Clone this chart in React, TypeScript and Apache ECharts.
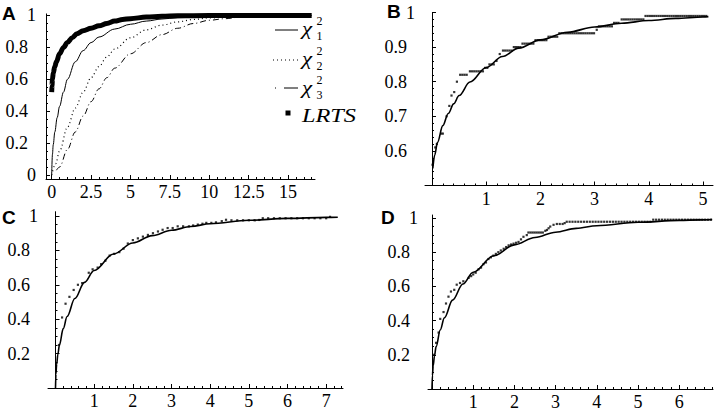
import React, { useEffect, useRef } from "react";
import * as echarts from "echarts";

const SERIF = "Liberation Serif, Times New Roman, DejaVu Serif, serif";
const SANS = "Liberation Sans, Arial, DejaVu Sans, sans-serif";

// ---------- Panel A ----------
const aXLabels = [0, 2.5, 5, 7.5, 10, 12.5, 15];
const aYLabels = [0, 0.2, 0.4, 0.6, 0.8, 1];
const chi1A: [number, number][] = [
  [0, 0], [0.05, 0.13], [0.1, 0.19], [0.2, 0.27], [0.35, 0.36], [0.5, 0.43], [0.75, 0.52],
  [1, 0.6], [1.5, 0.71], [2, 0.78], [2.5, 0.83], [3, 0.865], [4, 0.915], [5, 0.945],
  [6, 0.965], [7, 0.978], [8, 0.986], [10, 0.995], [12, 0.999], [16.5, 1],
];
const chi2A: [number, number][] = [
  [0, 0], [0.25, 0.07], [0.5, 0.15], [1, 0.3], [1.5, 0.42], [2, 0.52], [2.5, 0.61], [3, 0.68],
  [3.5, 0.74], [4, 0.79], [5, 0.86], [6, 0.91], [7, 0.94], [8, 0.96], [9, 0.975], [10, 0.985],
  [12, 0.996], [16.5, 1],
];
const chi3A: [number, number][] = [
  [0.3, 0.03], [0.5, 0.05], [1, 0.16], [1.5, 0.27], [2, 0.37], [2.5, 0.46], [3, 0.54], [3.5, 0.61],
  [4, 0.67], [5, 0.76], [6, 0.83], [7, 0.88], [8, 0.92], [9, 0.95], [10, 0.97], [11, 0.98],
  [12, 0.99], [14, 0.997], [16.5, 1],
];
const lrtsA: [number, number][] = [
  [0, 0.52], [0.02, 0.56], [0.05, 0.6], [0.1, 0.64], [0.2, 0.68], [0.3, 0.71], [0.5, 0.76],
  [0.75, 0.8], [1, 0.83], [1.3, 0.86], [1.6, 0.885], [2, 0.905], [2.5, 0.92], [3, 0.935],
  [3.5, 0.95], [4, 0.965], [4.5, 0.975], [5, 0.98], [6, 0.99], [7, 0.995], [8, 0.998],
  [10, 1], [16.5, 1],
];

// ---------- Panel B ----------
const bXLabels = [1, 2, 3, 4, 5];
const bYLabels = [0.6, 0.7, 0.8, 0.9, 1];
const curveB: [number, number][] = [
  [0.015, 0.549], [0.05, 0.588], [0.1, 0.624], [0.2, 0.673], [0.3, 0.708], [0.4, 0.736],
  [0.5, 0.76], [0.7, 0.799], [1, 0.841], [1.3, 0.873], [1.6, 0.897], [2, 0.921], [2.5, 0.943],
  [3, 0.958], [3.5, 0.969], [4, 0.977], [4.5, 0.983], [5, 0.987], [5.1, 0.988],
];
const dotsB: [number, number][] = [
  [0.01, 0.56], [0.06, 0.61], [0.09, 0.62], [0.17, 0.65], [0.2, 0.65], [0.27, 0.7], [0.32, 0.73],
  [0.36, 0.76], [0.41, 0.77], [0.46, 0.8],
  [0.52, 0.82], [0.56, 0.82], [0.6, 0.82], [0.64, 0.82],
  [0.7, 0.83], [0.74, 0.83], [0.78, 0.83], [0.82, 0.83], [0.86, 0.83], [0.9, 0.83], [0.94, 0.83],
  [0.98, 0.84], [1.02, 0.84],
  [1.06, 0.85], [1.1, 0.85], [1.14, 0.85], [1.19, 0.86], [1.25, 0.88],
  [1.31, 0.89], [1.35, 0.89], [1.39, 0.89], [1.43, 0.89], [1.47, 0.89],
  [1.51, 0.9], [1.55, 0.9], [1.59, 0.9], [1.63, 0.9],
  [1.67, 0.91], [1.71, 0.91], [1.75, 0.91], [1.79, 0.91], [1.83, 0.91], [1.87, 0.91],
  [1.91, 0.92], [1.95, 0.92], [1.99, 0.92], [2.03, 0.92], [2.07, 0.92], [2.11, 0.92],
  [2.15, 0.93], [2.19, 0.93], [2.23, 0.93], [2.27, 0.93], [2.31, 0.93],
  [2.35, 0.94], [2.39, 0.94], [2.43, 0.94], [2.47, 0.94], [2.51, 0.94], [2.55, 0.94], [2.59, 0.94],
  [2.63, 0.94], [2.67, 0.94], [2.71, 0.94], [2.75, 0.94], [2.79, 0.94], [2.83, 0.94], [2.87, 0.94],
  [2.91, 0.94], [2.95, 0.94], [2.99, 0.94],
  [3.04, 0.95],
  [3.08, 0.96], [3.12, 0.96], [3.16, 0.96], [3.2, 0.96], [3.24, 0.96], [3.28, 0.96], [3.32, 0.96],
  [3.36, 0.97], [3.4, 0.97], [3.44, 0.97],
  [3.5, 0.98], [3.54, 0.98], [3.58, 0.98], [3.62, 0.98], [3.66, 0.98], [3.7, 0.98], [3.74, 0.98],
  [3.78, 0.98], [3.82, 0.98], [3.86, 0.98], [3.9, 0.98],
  [3.94, 0.99], [3.98, 0.99], [4.02, 0.99], [4.06, 0.99], [4.1, 0.99], [4.14, 0.99], [4.18, 0.99],
  [4.22, 0.99], [4.26, 0.99], [4.3, 0.99], [4.34, 0.99], [4.38, 0.99], [4.42, 0.99], [4.46, 0.99],
  [4.5, 0.99], [4.54, 0.99], [4.58, 0.99], [4.62, 0.99], [4.66, 0.99], [4.7, 0.99], [4.74, 0.99],
  [4.78, 0.99], [4.82, 0.99], [4.86, 0.99], [4.9, 0.99], [4.94, 0.99], [4.98, 0.99], [5.02, 0.99],
  [5.06, 0.99],
];

// ---------- Panel C ----------
const cXLabels = [1, 2, 3, 4, 5, 6, 7];
const cYLabels = [0.2, 0.4, 0.6, 0.8, 1];
const curveC: [number, number][] = [
  [0, 0], [0.01, 0.08], [0.03, 0.138], [0.06, 0.194], [0.1, 0.248], [0.2, 0.345], [0.3, 0.416],
  [0.5, 0.52], [0.75, 0.614], [1, 0.683], [1.5, 0.779], [2, 0.843], [2.5, 0.886], [3, 0.917],
  [3.5, 0.939], [4, 0.955], [5, 0.975], [6, 0.986], [7, 0.992], [7.3, 0.993],
];
const dotsC: [number, number][] = [
  [0.09, 0.25], [0.17, 0.41], [0.26, 0.49], [0.36, 0.53], [0.47, 0.57], [0.58, 0.6], [0.69, 0.61],
  [0.86, 0.67], [0.96, 0.69], [1.09, 0.7], [1.18, 0.72], [1.29, 0.74], [1.4, 0.77], [1.52, 0.78],
  [1.65, 0.79], [1.76, 0.81], [1.87, 0.84], [2.0, 0.86], [2.13, 0.87], [2.26, 0.88], [2.39, 0.89],
  [2.52, 0.9], [2.65, 0.91], [2.77, 0.92], [2.9, 0.93], [3.03, 0.93], [3.16, 0.94], [3.3, 0.94],
  [3.45, 0.94], [3.56, 0.945], [3.68, 0.95], [3.8, 0.955], [3.9, 0.96], [4.03, 0.96], [4.15, 0.963],
  [4.3, 0.97], [4.41, 0.978], [4.55, 0.975], [4.7, 0.975], [4.85, 0.975], [5.0, 0.975],
  [5.15, 0.975], [5.27, 0.977], [5.36, 0.987], [5.5, 0.987], [5.65, 0.987], [5.8, 0.987],
  [5.95, 0.987], [6.1, 0.987], [6.25, 0.987], [6.4, 0.987], [6.55, 0.987], [6.7, 0.987],
  [6.85, 0.987], [7.0, 0.987], [7.1, 0.995],
];

// ---------- Panel D ----------
const dXLabels = [1, 2, 3, 4, 5, 6];
const dYLabels = [0.2, 0.4, 0.6, 0.8, 1];
const curveD: [number, number][] = [
  [0, 0], [0.01, 0.08], [0.03, 0.138], [0.06, 0.194], [0.1, 0.248], [0.2, 0.345], [0.3, 0.416],
  [0.5, 0.52], [0.75, 0.614], [1, 0.683], [1.5, 0.779], [2, 0.843], [2.5, 0.886], [3, 0.917],
  [3.5, 0.939], [4, 0.955], [5, 0.975], [6, 0.986], [6.5, 0.989], [6.8, 0.991],
];
const dotsD: [number, number][] = [
  [0.05, 0.2], [0.1, 0.27], [0.16, 0.33], [0.2, 0.41], [0.28, 0.45], [0.34, 0.5], [0.4, 0.54],
  [0.46, 0.57], [0.54, 0.58], [0.6, 0.61], [0.68, 0.62], [0.76, 0.63], [0.89, 0.65], [0.95, 0.66],
  [1.0, 0.67], [1.06, 0.68], [1.13, 0.7], [1.19, 0.71], [1.25, 0.73], [1.31, 0.74], [1.37, 0.76],
  [1.43, 0.77], [1.49, 0.78], [1.55, 0.79], [1.61, 0.8], [1.67, 0.81], [1.74, 0.82], [1.8, 0.83],
  [1.86, 0.84], [1.92, 0.845], [1.98, 0.85], [2.04, 0.855], [2.1, 0.86], [2.16, 0.875],
  [2.22, 0.89], [2.3, 0.9],
  [2.34, 0.915], [2.39, 0.915], [2.44, 0.915], [2.49, 0.915], [2.54, 0.915], [2.59, 0.915],
  [2.64, 0.915], [2.69, 0.915],
  [2.75, 0.925], [2.79, 0.93], [2.83, 0.94], [2.87, 0.95], [2.95, 0.96], [3.03, 0.965],
  [3.1, 0.965], [3.17, 0.965], [3.22, 0.97],
  [3.27, 0.978], [3.34, 0.978], [3.41, 0.978], [3.48, 0.978], [3.55, 0.978], [3.62, 0.978],
  [3.69, 0.978], [3.76, 0.978], [3.83, 0.978], [3.9, 0.978], [3.97, 0.978], [4.04, 0.978],
  [4.11, 0.978], [4.18, 0.978], [4.25, 0.978], [4.32, 0.978], [4.39, 0.978], [4.46, 0.978],
  [4.53, 0.978], [4.6, 0.978], [4.67, 0.978], [4.74, 0.978], [4.81, 0.978], [4.88, 0.978],
  [4.95, 0.978], [5.02, 0.978], [5.09, 0.978], [5.16, 0.978], [5.23, 0.978], [5.3, 0.978],
  [5.37, 0.99], [5.44, 0.99], [5.51, 0.99], [5.58, 0.99], [5.65, 0.99], [5.72, 0.99], [5.79, 0.99],
  [5.86, 0.99], [5.93, 0.99], [6.0, 0.99], [6.07, 0.99], [6.14, 0.99], [6.21, 0.99], [6.28, 0.99],
  [6.35, 0.99], [6.42, 0.99], [6.49, 0.99], [6.56, 0.99], [6.63, 0.99], [6.7, 0.99], [6.77, 0.99],
];

function seq(a: number, b: number, s: number): number[] {
  const out: number[] = [];
  for (let v = a; v <= b + 1e-9; v += s) out.push(Math.round(v * 1000) / 1000);
  return out;
}
function without(vals: number[], majors: number[]) {
  return vals.filter((v) => !majors.some((m) => Math.abs(m - v) < 1e-6));
}

interface Panel {
  left: number; top: number; width: number; height: number;
  xMin: number; xMax: number; yMin: number; yMax: number;
  xLabels: number[]; yLabels: number[];
  xMinor: number[]; yMinor: number[];
  onZero: boolean;
}

const panels: Panel[] = [
  {
    left: 46, top: 13.9, width: 269, height: 165.1,
    xMin: -0.36, xMax: 16.71, yMin: -0.025, yMax: 1.01,
    xLabels: aXLabels, yLabels: aYLabels,
    xMinor: without(seq(0, 16.5, 0.5), aXLabels), yMinor: without(seq(0, 1, 0.05), aYLabels),
    onZero: false,
  },
  {
    left: 425, top: 12.5, width: 288, height: 173,
    xMin: -0.129, xMax: 5.185, yMin: 0.5, yMax: 1.0,
    xLabels: bXLabels, yLabels: bYLabels,
    xMinor: without(seq(0.2, 5.2, 0.2), bXLabels), yMinor: without(seq(0.52, 1, 0.02), bYLabels),
    onZero: true,
  },
  {
    left: 48, top: 211.7, width: 295, height: 176.3,
    xMin: -0.194, xMax: 7.435, yMin: 0, yMax: 1.025,
    xLabels: cXLabels, yLabels: cYLabels,
    xMinor: without(seq(0.2, 7.4, 0.2), cXLabels), yMinor: without(seq(0.05, 1, 0.05), cYLabels),
    onZero: true,
  },
  {
    left: 428, top: 215, width: 285, height: 174,
    xMin: -0.097, xMax: 6.82, yMin: 0, yMax: 1.0175,
    xLabels: dXLabels, yLabels: dYLabels,
    xMinor: without(seq(0.2, 6.8, 0.2), dXLabels), yMinor: without(seq(0.05, 1, 0.05), dYLabels),
    onZero: true,
  },
];

const BLACK = "#000";
const lineSt = { color: BLACK, width: 1 };
const LABEL_SIZE = 18;
const labelText = { color: BLACK, fontFamily: SERIF, fontSize: LABEL_SIZE, fontWeight: "normal", fontStyle: "normal" };

function buildOption() {
  const grid: any[] = [];
  const xAxis: any[] = [];
  const yAxis: any[] = [];
  panels.forEach((p, gi) => {
    grid.push({ left: p.left, top: p.top, width: p.width, height: p.height });
    const base = { type: "value", gridIndex: gi, splitLine: { show: false }, minorTick: { show: false } };
    xAxis.push({
      ...base, min: p.xMin, max: p.xMax, position: "bottom",
      axisLine: { show: true, onZero: false, lineStyle: lineSt },
      axisTick: { show: true, inside: true, length: 4, customValues: p.xLabels, lineStyle: lineSt },
      axisLabel: {
        show: true, customValues: p.xLabels, margin: 4, ...labelText,
        formatter: (v: number) => `{n|${v}}`,
        rich: { n: { ...labelText } },
      },
    });
    xAxis.push({
      ...base, min: p.xMin, max: p.xMax, position: "bottom",
      axisLine: { show: false, onZero: false },
      axisTick: { show: true, inside: true, length: 2, customValues: p.xMinor, lineStyle: lineSt },
      axisLabel: { show: false },
    });
    yAxis.push({
      ...base, min: p.yMin, max: p.yMax, position: "left",
      axisLine: { show: true, onZero: p.onZero, lineStyle: lineSt },
      axisTick: { show: true, inside: true, length: 4, customValues: p.yLabels, lineStyle: lineSt },
      axisLabel: {
        show: true, customValues: p.yLabels, margin: 10, ...labelText,
        formatter: (v: number) => (Number.isInteger(v) ? `{n|${v}}` : `{d|${v}}`),
        rich: { n: { ...labelText }, d: { ...labelText, padding: [0, 8, 0, 0] } },
      },
    });
    yAxis.push({
      ...base, min: p.yMin, max: p.yMax, position: "left",
      axisLine: { show: false, onZero: p.onZero },
      axisTick: { show: true, inside: true, length: 2, customValues: p.yMinor, lineStyle: lineSt },
      axisLabel: { show: false },
    });
  });

  const lineSeries = (gi: number, data: [number, number][], style: any, z = 2) => ({
    type: "line", xAxisIndex: gi * 2, yAxisIndex: gi * 2, data, symbol: "none", showSymbol: false,
    smooth: 0.35, smoothMonotone: "x", silent: true, z,
    lineStyle: { color: BLACK, ...style },
  });
  const dotSeries = (gi: number, data: [number, number][]) => ({
    type: "scatter", xAxisIndex: gi * 2, yAxisIndex: gi * 2, data, symbol: "rect", symbolSize: 2.2,
    silent: true, itemStyle: { color: BLACK }, z: 3,
  });

  const series: any[] = [
    lineSeries(0, chi1A, { width: 1 }),
    lineSeries(0, chi2A, { width: 1.2, type: [1, 3] }),
    lineSeries(0, chi3A, { width: 1, type: [6, 3, 1, 3] }),
    lineSeries(0, lrtsA, { width: 5 }, 4),
    lineSeries(1, curveB, { width: 1.6 }),
    dotSeries(1, dotsB),
    lineSeries(2, curveC, { width: 1.6 }),
    dotSeries(2, dotsC),
    lineSeries(3, curveD, { width: 1.6 }),
    dotSeries(3, dotsD),
  ];

  const txt = (text: string, x: number, y: number, size: number, extra: any = {}, scaleX = 1) => ({
    type: "text", x, y, scaleX,
    style: {
      text, fill: BLACK, fontFamily: extra.family || SERIF, fontSize: size,
      fontStyle: extra.italic ? "italic" : "normal", fontWeight: extra.bold ? "bold" : "normal",
      verticalAlign: "middle", align: "left",
    },
  });
  const letter = (t: string, x: number, y: number) => txt(t, x, y, 19, { family: SANS, bold: true });
  const legendRow = (y: number, sup: string, sub: string) => [
    txt("χ", 302, y - 1, 19, { italic: true }, 1.2),
    txt(sup, 316.5, y - 9, 12),
    txt(sub, 316.5, y + 6, 12),
  ];

  const graphic: any[] = [
    letter("A", 2, 13.5), letter("B", 387, 11.7), letter("C", 2, 217), letter("D", 381, 217),
    { type: "line", shape: { x1: 275, y1: 30, x2: 298, y2: 30 }, style: { stroke: BLACK, lineWidth: 1 } },
    { type: "line", shape: { x1: 273, y1: 60, x2: 298, y2: 60 }, style: { stroke: BLACK, lineWidth: 1.2, lineDash: [1, 3] } },
    { type: "line", shape: { x1: 275, y1: 88, x2: 298, y2: 88 }, style: { stroke: BLACK, lineWidth: 1, lineDash: [1, 8, 14, 8] } },
    ...legendRow(30, "2", "1"),
    ...legendRow(60, "2", "2"),
    ...legendRow(89, "2", "3"),
    { type: "rect", shape: { x: 285.5, y: 110.5, width: 5, height: 5 }, style: { fill: BLACK } },
    txt("LRTS", 302, 116, 18, { italic: true }, 1.35),
  ];

  return {
    animation: false,
    backgroundColor: "#fff",
    textStyle: { fontFamily: SERIF, fontSize: LABEL_SIZE },
    grid, xAxis, yAxis, series, graphic,
  };
}

export default function App() {
  const ref = useRef<HTMLDivElement>(null);
  useEffect(() => {
    if (!ref.current) return;
    const chart = echarts.init(ref.current, undefined, { renderer: "svg" });
    chart.setOption(buildOption() as any);
    return () => chart.dispose();
  }, []);
  return (
    <div
      ref={ref}
      style={{ position: "absolute", left: 0, top: 0, width: 720, height: 412, background: "#fff" }}
    />
  );
}
